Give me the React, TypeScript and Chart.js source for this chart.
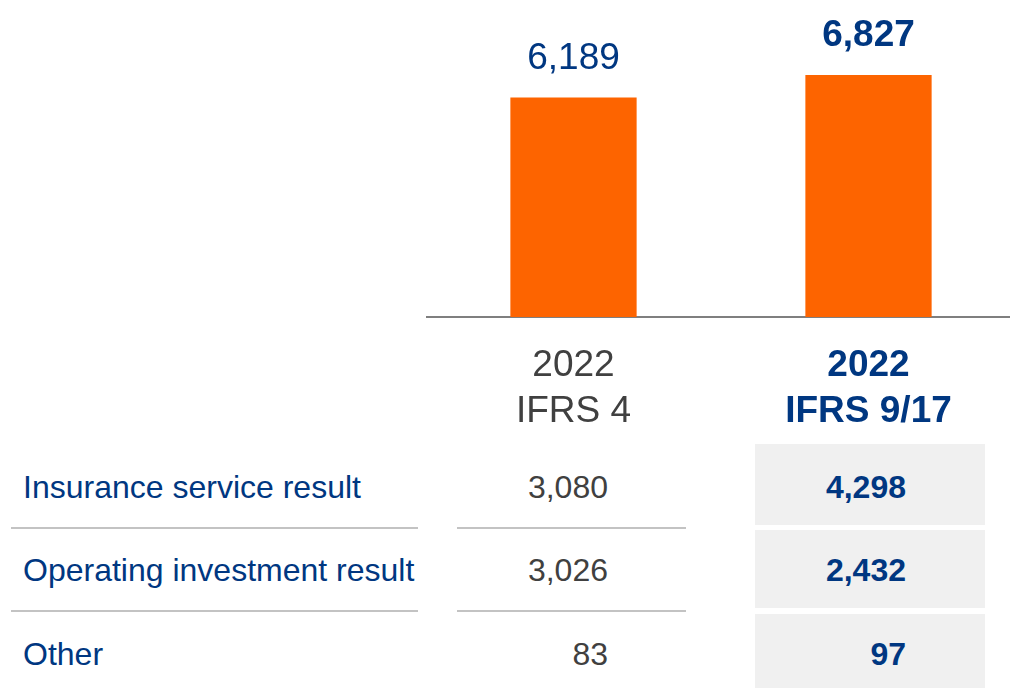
import React, { useEffect, useRef } from "react";
import { Chart, registerables } from "chart.js";

Chart.register(...registerables);

const categories: string[][] = [["2022", "IFRS 4"], ["2022", "IFRS 9/17"]];
const totals: number[] = [6189, 6827];
const rowLabels: string[] = ["Insurance service result", "Operating investment result", "Other"];
const ifrs4Values: number[] = [3080, 3026, 83];
const ifrs917Values: number[] = [4298, 2432, 97];

const BLUE = "#003781";
const GRAY_TEXT = "#404040";
const ORANGE = "#FD6400";
const FONT = "'Liberation Sans', Arial, sans-serif";

const fmt = (v: number) => v.toLocaleString("en-US");

const valueLabels = {
  id: "valueLabels",
  afterDatasetsDraw(chart: any) {
    const ctx = chart.ctx;
    const meta = chart.getDatasetMeta(0);
    ctx.save();
    ctx.textAlign = "center";
    ctx.textBaseline = "alphabetic";
    meta.data.forEach((bar: any, i: number) => {
      const bold = i === 1;
      ctx.font = `${bold ? "bold " : ""}37px ${FONT}`;
      ctx.fillStyle = BLUE;
      ctx.fillText(fmt(totals[i]), bar.x, bar.y - 29);
    });
    ctx.restore();
  },
};

function BarChart() {
  const ref = useRef<HTMLCanvasElement>(null);
  useEffect(() => {
    if (!ref.current) return;
    const chart = new Chart(ref.current, {
      type: "bar",
      data: {
        labels: categories,
        datasets: [
          {
            data: totals,
            backgroundColor: ORANGE,
            barPercentage: 0.428,
            categoryPercentage: 1,
          },
        ],
      },
      options: {
        animation: false,
        responsive: false,
        maintainAspectRatio: false,
        layout: { padding: 0 },
        plugins: { legend: { display: false }, tooltip: { enabled: false } },
        scales: {
          y: { display: false, min: 0, max: 8940 },
          x: {
            grid: { display: false, drawTicks: false },
            border: { display: true, color: "#7f7f7f", width: 2 },
            ticks: {
              padding: 26,
              color: (c: any) => (c.index === 1 ? BLUE : GRAY_TEXT),
              font: (c: any) => ({
                family: FONT,
                size: 37,
                weight: c.index === 1 ? "bold" : "normal",
                lineHeight: 1.24,
              }),
            },
            afterFit: (s: any) => {
              s.height = 123;
            },
          },
        },
      },
      plugins: [valueLabels],
    });
    return () => chart.destroy();
  }, []);
  return (
    <canvas
      ref={ref}
      width={590}
      height={440}
      style={{ position: "absolute", left: 426, top: 0, width: 590, height: 440 }}
    />
  );
}

const rowTops = [444, 530, 614];
const rowBottoms = [525, 608, 688];
const rowCenters = [487, 570, 654];

export default function App() {
  useEffect(() => {
    document.body.style.margin = "0";
  }, []);
  return (
    <div
      style={{
        position: "relative",
        width: 1010,
        height: 688,
        overflow: "hidden",
        background: "#ffffff",
        fontFamily: FONT,
      }}
    >
      <BarChart />
      {rowLabels.map((label, i) => (
        <React.Fragment key={label}>
          <div
            style={{
              position: "absolute",
              left: 755,
              width: 230,
              top: rowTops[i],
              height: rowBottoms[i] - rowTops[i],
              background: "#f0f0f0",
            }}
          />
          <div
            style={{
              position: "absolute",
              left: 23,
              top: rowCenters[i] - 20,
              height: 40,
              lineHeight: "40px",
              fontSize: 32,
              color: BLUE,
              whiteSpace: "nowrap",
            }}
          >
            {label}
          </div>
          <div
            style={{
              position: "absolute",
              left: 440,
              width: 168,
              textAlign: "right",
              top: rowCenters[i] - 20,
              height: 40,
              lineHeight: "40px",
              fontSize: 32,
              color: GRAY_TEXT,
            }}
          >
            {fmt(ifrs4Values[i])}
          </div>
          <div
            style={{
              position: "absolute",
              left: 740,
              width: 166,
              textAlign: "right",
              top: rowCenters[i] - 20,
              height: 40,
              lineHeight: "40px",
              fontSize: 32,
              fontWeight: "bold",
              color: BLUE,
            }}
          >
            {fmt(ifrs917Values[i])}
          </div>
          {i < rowLabels.length - 1 && (
            <>
              <div
                style={{
                  position: "absolute",
                  left: 11,
                  width: 407,
                  top: (rowBottoms[i] + rowTops[i + 1]) / 2 - 1,
                  height: 2,
                  background: "#c3c3c3",
                }}
              />
              <div
                style={{
                  position: "absolute",
                  left: 457,
                  width: 229,
                  top: (rowBottoms[i] + rowTops[i + 1]) / 2 - 1,
                  height: 2,
                  background: "#c3c3c3",
                }}
              />
            </>
          )}
        </React.Fragment>
      ))}
    </div>
  );
}
